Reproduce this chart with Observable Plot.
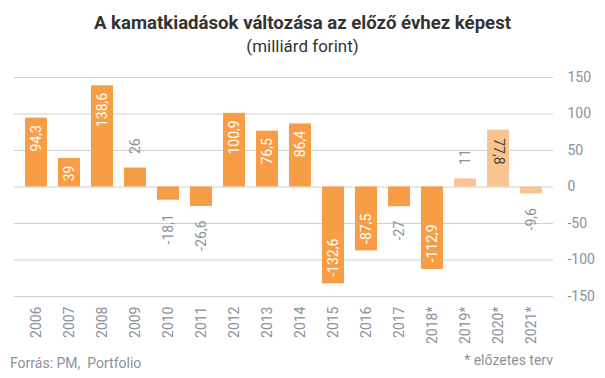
<!DOCTYPE html>
<html>
<head>
<meta charset="utf-8">
<script src="https://cdn.jsdelivr.net/npm/d3@7"></script>
<script src="https://cdn.jsdelivr.net/npm/@observablehq/plot@0.6"></script>
<style>
  html, body { margin: 0; padding: 0; background: #fff; }
  #wrap { position: relative; width: 605px; height: 378px; overflow: hidden; font-family: Roboto, sans-serif; }
  .title { position: absolute; left: 0; width: 605px; text-align: center; color: #333; white-space: nowrap; }
  #t1 { top: 14px; font-size: 18.6px; line-height: 18px; font-weight: bold; letter-spacing: 0; }
  #t2 { top: 38px; font-size: 17px; line-height: 17px; }
  #chart { position: absolute; left: 0; top: 62px; }
  .foot { position: absolute; font-size: 14px; line-height: 14px; color: #8c9199; white-space: nowrap; }
  #src { left: 10px; top: 356px; }
  #note { right: 52px; top: 353px; }
</style>
</head>
<body>
<div id="wrap">
  <div class="title" id="t1">A kamatkiadások változása az előző évhez képest</div>
  <div class="title" id="t2">(milliárd forint)</div>
  <div id="chart"></div>
  <div class="foot" id="src">Forrás: PM,&nbsp; Portfolio</div>
  <div class="foot" id="note">* előzetes terv</div>
</div>
<script>
const years = ["2006","2007","2008","2009","2010","2011","2012","2013","2014","2015","2016","2017","2018*","2019*","2020*","2021*"];
const values = [94.3, 39, 138.6, 26, -18.1, -26.6, 100.9, 76.5, 86.4, -132.6, -87.5, -27, -112.9, 11, 77.8, -9.6];
const plannedYears = ["2019*","2020*","2021*"];
const yTicks = [-150, -100, -50, 0, 50, 100, 150];

const data = years.map((year, i) => ({year, value: values[i], planned: plannedYears.includes(year)}));
const fmt = v => String(v).replace(".", ",");
const inside = d => Math.abs(d.value) > 30;

const dark = "#F69D45", light = "#FAC490", gray = "#8c9199";

const chart = Plot.plot({
  width: 605,
  height: 316,
  marginTop: 15,
  marginBottom: 82,
  marginLeft: 14,
  marginRight: 52,
  style: {fontFamily: "Roboto, sans-serif", fontSize: "14px", background: "transparent"},
  x: {domain: years, paddingInner: 0.34, paddingOuter: 0.19, axis: null},
  y: {domain: [-150, 150], axis: null},
  marks: [
    Plot.gridY(yTicks, {stroke: "#d0d0d0", strokeOpacity: 1}),
    Plot.barY(data, {x: "year", y: "value", fill: d => d.planned ? light : dark}),
    Plot.text(data.filter(d => inside(d) && d.value > 0 && !d.planned), {
      x: "year", y: "value", text: d => fmt(d.value), rotate: -90, textAnchor: "end", dy: 7, fill: "white", fontSize: 14
    }),
    Plot.text(data.filter(d => inside(d) && d.value < 0), {
      x: "year", y: "value", text: d => fmt(d.value), rotate: -90, textAnchor: "start", dy: -7, fill: "white", fontSize: 14
    }),
    Plot.text(data.filter(d => inside(d) && d.planned), {
      x: "year", y: "value", text: d => fmt(d.value), rotate: 90, textAnchor: "start", dy: 8, fill: "#444", fontSize: 14
    }),
    Plot.text(data.filter(d => !inside(d) && d.value > 0), {
      x: "year", y: "value", text: d => fmt(d.value), rotate: -90, textAnchor: "start", dy: -14, fill: gray, fontSize: 14
    }),
    Plot.text(data.filter(d => !inside(d) && d.value < 0), {
      x: "year", y: "value", text: d => fmt(d.value), rotate: -90, textAnchor: "end", dy: 14, fill: gray, fontSize: 14
    }),
    Plot.axisY(yTicks, {anchor: "right", tickSize: 0, tickPadding: 14, tickFormat: d => String(d), fill: gray, fontSize: 14, label: null}),
    Plot.axisX(years, {anchor: "bottom", tickSize: 0, tickPadding: 10, tickRotate: -90, fill: gray, fontSize: 14, label: null})
  ]
});
document.getElementById("chart").appendChild(chart);
</script>
</body>
</html>
